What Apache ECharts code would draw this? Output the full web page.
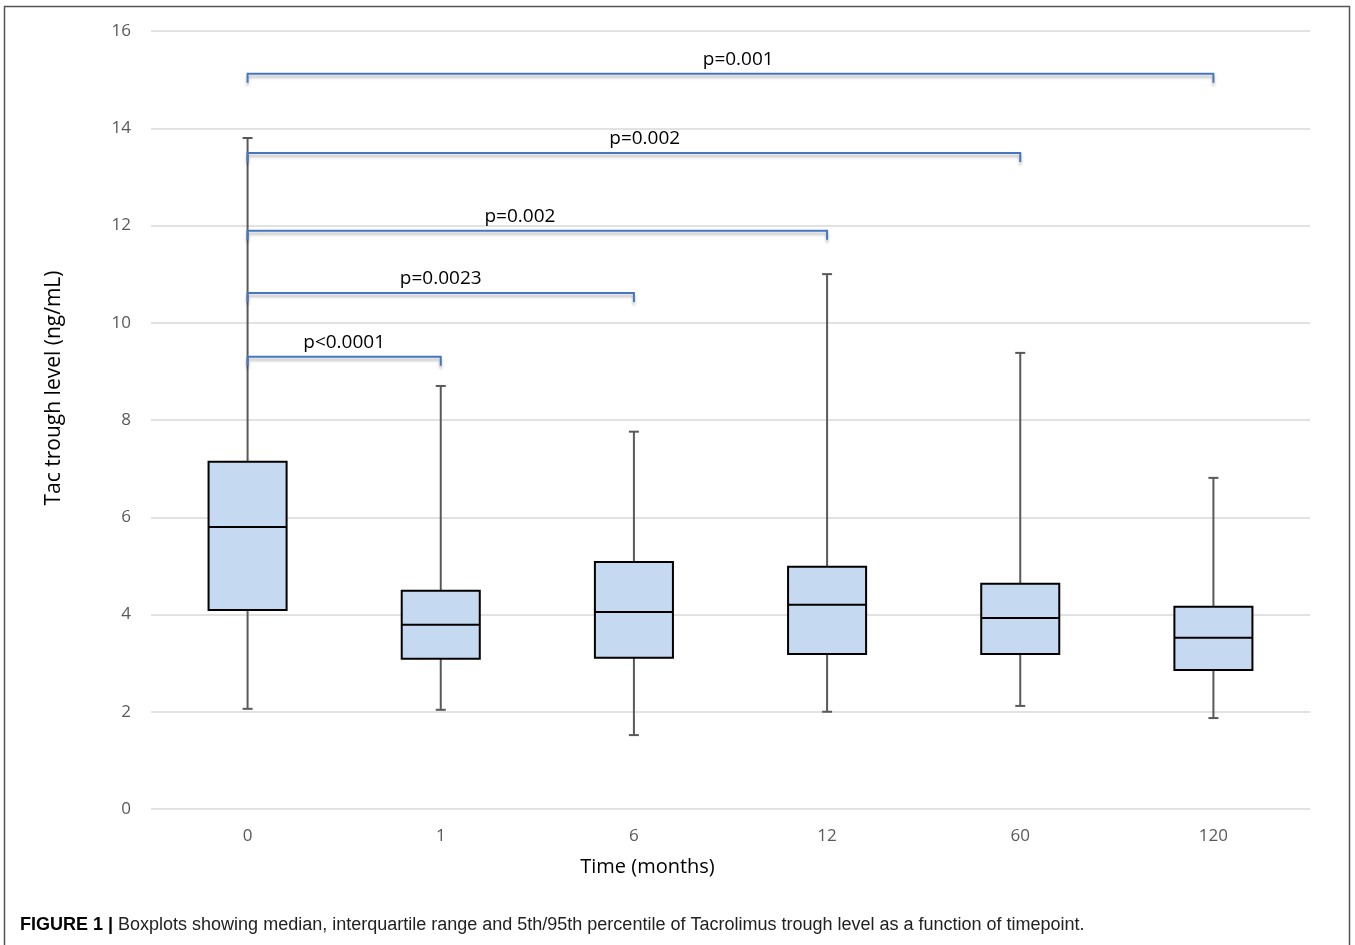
<!DOCTYPE html>
<html>
<head>
<meta charset="utf-8">
<script src="https://cdn.jsdelivr.net/npm/echarts@6/dist/echarts.min.js"></script>
<style>
html,body{margin:0;padding:0;background:#fff;}
#chart{width:1355px;height:945px;}
</style>
</head>
<body>
<div id="chart"></div>
<script>
// ---- data ----
const categories = ['0', '1', '6', '12', '60', '120'];
const whiskerLow  = [2.06, 2.04, 1.52, 2.00, 2.12, 1.87];
const q1          = [4.09, 3.09, 3.11, 3.19, 3.19, 2.86];
const median      = [5.80, 3.79, 4.05, 4.20, 3.93, 3.52];
const q3          = [7.14, 4.49, 5.08, 4.98, 4.63, 4.16];
const whiskerHigh = [13.80, 8.70, 7.76, 11.00, 9.38, 6.81];

const bracketFrom   = [0, 0, 0, 0, 0];
const bracketTo     = [5, 4, 3, 2, 1];
const bracketY      = [15.12, 13.49, 11.89, 10.61, 9.30];
const bracketLabels = ['p=0.001', 'p=0.002', 'p=0.002', 'p=0.0023', 'p<0.0001'];

const yTicks = [0, 2, 4, 6, 8, 10, 12, 14, 16];

// ---- layout helpers (not data) ----
const labelFrac = [0.508, 0.514, 0.47, 0.5, 0.5];

const boxData = categories.map((c, i) => [i, whiskerLow[i], q1[i], median[i], q3[i], whiskerHigh[i]]);
const bracketData = bracketFrom.map((f, i) => [f, bracketTo[i], bracketY[i], i]);

const chart = echarts.init(document.getElementById('chart'));
const FONT = '"Open Sans", sans-serif';

chart.setOption({
  animation: false,
  backgroundColor: '#ffffff',
  grid: { left: 151, right: 45, top: 31, bottom: 136 },
  xAxis: {
    type: 'category',
    data: categories,
    boundaryGap: true,
    axisLine: { show: false },
    axisTick: { show: false },
    axisLabel: { color: '#595959', fontSize: 17, fontFamily: FONT, margin: 19 },
    name: 'Time (months)',
    nameLocation: 'middle',
    nameGap: 48,
    nameTextStyle: { color: '#000', fontSize: 20, fontFamily: FONT, padding: [0, 166, 0, 0] }
  },
  yAxis: {
    type: 'value',
    min: yTicks[0],
    max: yTicks[yTicks.length - 1],
    interval: 2,
    axisLine: { show: false },
    axisTick: { show: false },
    splitLine: { show: true, lineStyle: { color: '#d9d9d9', width: 1.5 } },
    axisLabel: { color: '#595959', fontSize: 17, fontFamily: FONT, margin: 20 },
    name: 'Tac trough level (ng/mL)',
    nameLocation: 'middle',
    nameGap: 86,
    nameTextStyle: { color: '#000', fontSize: 21, fontFamily: FONT, padding: [0, 0, 0, 64] }
  },
  series: [
    {
      type: 'custom',
      data: boxData,
      encode: { x: 0, y: [1, 2, 3, 4, 5] },
      renderItem: function (params, api) {
        const i = api.value(0);
        const lo = api.coord([i, api.value(1)]);
        const p1 = api.coord([i, api.value(2)]);
        const pm = api.coord([i, api.value(3)]);
        const p3 = api.coord([i, api.value(4)]);
        const hi = api.coord([i, api.value(5)]);
        const bw = api.size([1, 0])[0] * 0.404;
        const x = lo[0];
        const cap = 5;
        const wStyle = { stroke: '#595959', lineWidth: 2 };
        return {
          type: 'group',
          children: [
            { type: 'line', shape: { x1: x, y1: hi[1], x2: x, y2: p3[1] }, style: wStyle },
            { type: 'line', shape: { x1: x - cap, y1: hi[1], x2: x + cap, y2: hi[1] }, style: wStyle },
            { type: 'line', shape: { x1: x, y1: p1[1], x2: x, y2: lo[1] }, style: wStyle },
            { type: 'line', shape: { x1: x - cap, y1: lo[1], x2: x + cap, y2: lo[1] }, style: wStyle },
            { type: 'rect', shape: { x: x - bw / 2, y: p3[1], width: bw, height: p1[1] - p3[1] },
              style: { fill: '#c5d9f1', stroke: '#000', lineWidth: 2 } },
            { type: 'line', shape: { x1: x - bw / 2, y1: pm[1], x2: x + bw / 2, y2: pm[1] },
              style: { stroke: '#000', lineWidth: 2 } }
          ]
        };
      }
    },
    {
      type: 'custom',
      data: bracketData,
      encode: { x: [0, 1], y: 2 },
      z: 5,
      renderItem: function (params, api) {
        const a = api.coord([api.value(0), api.value(2)]);
        const b = api.coord([api.value(1), api.value(2)]);
        const k = api.value(3);
        const drop = 9;
        const lx = a[0] + (b[0] - a[0]) * labelFrac[k];
        return {
          type: 'group',
          children: [
            { type: 'polyline',
              shape: { points: [[a[0], a[1] + drop], [a[0], a[1]], [b[0], b[1]], [b[0], b[1] + drop]] },
              style: { stroke: '#4677be', lineWidth: 2, fill: null,
                       shadowColor: 'rgba(0,0,0,0.3)', shadowBlur: 3, shadowOffsetY: 3 } },
            { type: 'text',
              style: { text: bracketLabels[k], x: lx, y: a[1] - 14, align: 'center', verticalAlign: 'middle',
                       fill: '#000', font: '19px "Open Sans", sans-serif' } }
          ]
        };
      }
    }
  ],
  graphic: [
    { type: 'polyline', silent: true,
      shape: { points: [[4.5, 945], [4.5, 6.5], [1349.5, 6.5], [1349.5, 945]] },
      style: { stroke: '#555', lineWidth: 1.5, fill: null } },
    { type: 'text', left: 20, top: 916,
      style: {
        text: '{b|FIGURE 1 |} Boxplots showing median, interquartile range and 5th/95th percentile of Tacrolimus trough level as a function of timepoint.',
        rich: { b: { fontWeight: 'bold', fontSize: 18, fontFamily: '"Liberation Sans", Arial, sans-serif', fill: '#000' } },
        fontSize: 18, fontFamily: '"Liberation Sans", Arial, sans-serif', fill: '#222'
      } }
  ]
});
</script>
</body>
</html>
